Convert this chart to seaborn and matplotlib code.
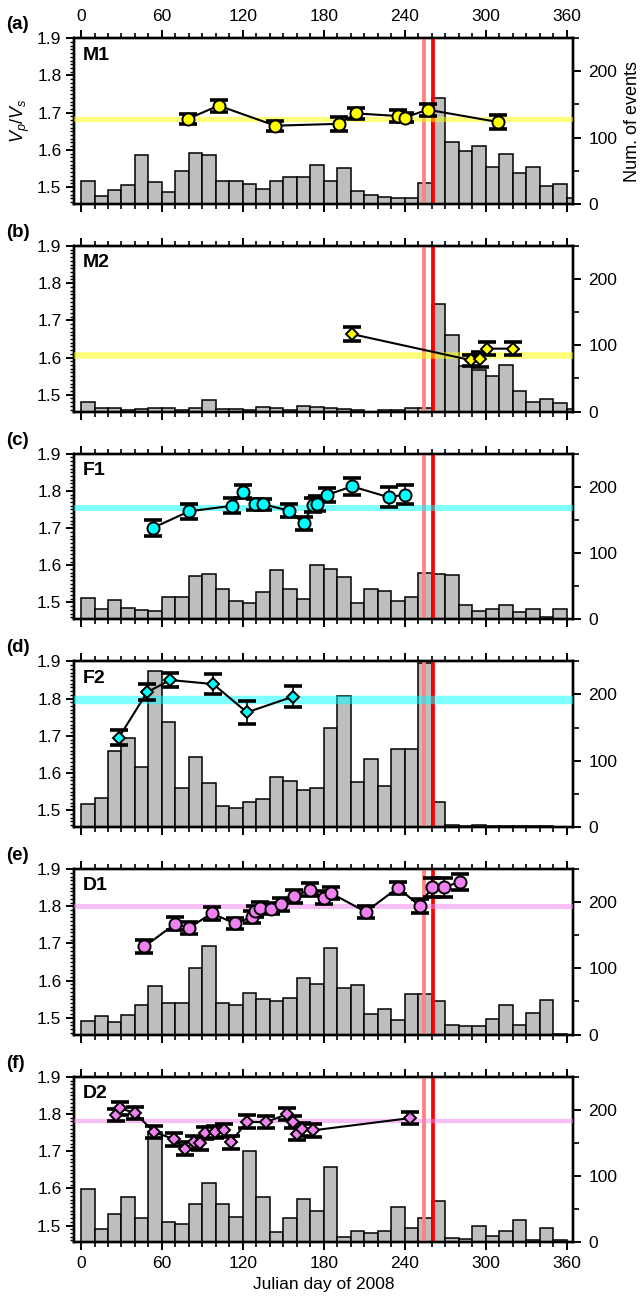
import numpy as np
import pandas as pd
import matplotlib
matplotlib.use("Agg")
import matplotlib.pyplot as plt
from matplotlib.ticker import MultipleLocator, FormatStrFormatter
import seaborn as sns

sns.set_theme(style="ticks", rc={
    "axes.edgecolor": "black", "xtick.color": "black", "ytick.color": "black",
    "text.color": "black", "axes.labelcolor": "black", "axes.linewidth": 1.7,
})
plt.rcParams["font.family"] = ["Liberation Sans", "DejaVu Sans"]
plt.rcParams["mathtext.fontset"] = "custom"
plt.rcParams["mathtext.rm"] = "Liberation Sans"
plt.rcParams["mathtext.it"] = "Liberation Sans:italic"

# ---- data ---------------------------------------------------------------
bin_width = 10                              # 10-day bins, Julian day
bin_centers = np.arange(5, 370, bin_width)

panel_letters = ["(a)", "(b)", "(c)", "(d)", "(e)", "(f)"]
cluster_names = ["M1", "M2", "F1", "F2", "D1", "D2"]

# number of events per 10-day bin
counts_m1 = [34, 12, 21, 29, 73, 33, 18, 49, 76, 74, 34, 34, 30, 22, 34, 41, 41, 59,
             35, 54, 20, 13, 10, 9, 9, 31, 160, 93, 80, 88, 55, 75, 47, 56, 27, 30, 9]
counts_m2 = [15, 6, 6, 3, 4, 5, 5, 2, 6, 18, 4, 4, 2, 7, 5, 2, 9, 7,
             5, 4, 2, 0, 3, 2, 6, 6, 163, 115, 69, 62, 54, 70, 31, 14, 19, 13, 4]
counts_f1 = [32, 16, 29, 17, 14, 13, 33, 34, 66, 68, 45, 28, 24, 41, 75, 45, 30, 82,
             76, 63, 24, 45, 42, 28, 34, 70, 68, 67, 22, 13, 15, 21, 11, 15, 3, 15, 0]
counts_f2 = [35, 43, 114, 135, 90, 236, 158, 59, 105, 67, 32, 28, 38, 42, 76, 70, 56, 59,
             149, 197, 68, 102, 62, 118, 117, 247, 38, 3, 2, 3, 1, 1, 1, 1, 1, 0, 0]
counts_d1 = [21, 28, 19, 30, 44, 74, 48, 47, 100, 134, 47, 44, 63, 54, 50, 55, 86, 77,
             131, 71, 75, 31, 39, 22, 62, 61, 50, 15, 13, 13, 24, 44, 15, 33, 52, 1, 0]
counts_d2 = [81, 20, 42, 68, 37, 166, 30, 28, 58, 89, 58, 38, 138, 69, 15, 36, 65, 48,
             114, 8, 17, 14, 17, 54, 22, 37, 62, 7, 5, 24, 9, 17, 33, 4, 21, 4, 0]

# Vp/Vs estimates: day, ratio, one-sigma error
day_m1 = [79, 102, 144, 191, 204, 235, 240, 257, 309]
vpvs_m1 = [1.683, 1.719, 1.665, 1.670, 1.698, 1.691, 1.687, 1.708, 1.675]
err_m1 = [0.013, 0.016, 0.013, 0.018, 0.015, 0.016, 0.013, 0.016, 0.018]

day_m2 = [201, 289, 296, 301, 320]
vpvs_m2 = [1.663, 1.593, 1.595, 1.624, 1.624]
err_m2 = [0.018, 0.015, 0.020, 0.017, 0.018]

day_f1 = [53, 80, 112, 120, 129, 135, 154, 165, 172, 175, 182, 201, 228, 240]
vpvs_f1 = [1.700, 1.745, 1.760, 1.798, 1.764, 1.764, 1.747, 1.713, 1.762, 1.766,
           1.789, 1.812, 1.783, 1.790]
err_f1 = [0.022, 0.020, 0.020, 0.018, 0.015, 0.015, 0.018, 0.018, 0.020, 0.020,
          0.020, 0.022, 0.027, 0.025]

day_f2 = [28, 49, 66, 98, 123, 157]
vpvs_f2 = [1.695, 1.817, 1.850, 1.839, 1.763, 1.805]
err_f2 = [0.021, 0.021, 0.020, 0.028, 0.030, 0.028]

day_d1 = [47, 70, 80, 97, 114, 127, 129, 133, 141, 148, 158, 170, 180, 185,
          211, 235, 251, 260, 269, 281]
vpvs_d1 = [1.692, 1.753, 1.742, 1.781, 1.754, 1.771, 1.786, 1.796, 1.794, 1.805,
           1.827, 1.845, 1.823, 1.836, 1.785, 1.850, 1.801, 1.851, 1.851, 1.866]
err_d1 = [0.018, 0.017, 0.017, 0.017, 0.015, 0.015, 0.015, 0.015, 0.015, 0.017,
          0.017, 0.017, 0.017, 0.017, 0.017, 0.016, 0.019, 0.026, 0.026, 0.022]

day_d2 = [26, 29, 40, 54, 69, 77, 84, 88, 92, 99, 106, 111, 123, 137,
          153, 157, 160, 164, 172, 244]
vpvs_d2 = [1.797, 1.815, 1.803, 1.752, 1.732, 1.707, 1.724, 1.721, 1.749, 1.752,
           1.756, 1.724, 1.779, 1.778, 1.800, 1.778, 1.747, 1.759, 1.756, 1.789]
err_d2 = [0.017] * 20

# long-term average Vp/Vs of each cluster
mean_vpvs = [1.684, 1.606, 1.753, 1.796, 1.801, 1.782]

# dates of the two events marked by vertical lines
event_days = [254, 261]

# ---- styling ------------------------------------------------------------
point_colors = ["#ffff00", "#ffff00", "#00ffff", "#00ffff", "#ee82ee", "#ee82ee"]
point_markers = ["o", "D", "o", "D", "o", "D"]
marker_sizes = [8.7, 6.6, 8.7, 6.6, 8.7, 6.6]
band_widths = [3.8, 4.8, 4.3, 6.0, 3.6, 3.1]

all_counts = [counts_m1, counts_m2, counts_f1, counts_f2, counts_d1, counts_d2]
all_days = [day_m1, day_m2, day_f1, day_f2, day_d1, day_d2]
all_vpvs = [vpvs_m1, vpvs_m2, vpvs_f1, vpvs_f2, vpvs_d1, vpvs_d2]
all_err = [err_m1, err_m2, err_f1, err_f2, err_d1, err_d2]

W, H = 644, 1298
fig = plt.figure(figsize=(W / 100, H / 100), dpi=100)

left_px, width_px, height_px = 74, 499, 165.5
tick_fs = 12.5

for i in range(6):
    top_px = 38.3 + i * 207.7
    rect = [left_px / W, 1 - (top_px + height_px) / H, width_px / W, height_px / H]
    ax = fig.add_axes(rect)
    ax2 = ax.twinx()
    ax.set_zorder(ax2.get_zorder() + 1)
    ax.patch.set_visible(False)

    # event histogram on the right-hand axis
    hist_df = pd.DataFrame({"day": bin_centers, "events": all_counts[i]})
    sns.histplot(data=hist_df, x="day", weights="events", binwidth=bin_width,
                 binrange=(0, 370), ax=ax2, color="#bebebe", edgecolor="black",
                 linewidth=1.1, alpha=1.0)
    ax2.set_ylim(0, 250)
    ax2.yaxis.set_major_locator(MultipleLocator(100))
    ax2.yaxis.set_minor_locator(MultipleLocator(50))
    ax2.tick_params(axis="y", which="major", direction="out", length=6, width=1.4,
                    labelsize=tick_fs, pad=5)
    ax2.tick_params(axis="y", which="minor", direction="out", length=4, width=1.2)

    # event markers and average ratio
    ax.axvline(event_days[0], color="#ff8080", lw=2.7, zorder=2)
    ax.axvline(event_days[1], color="#ff0000", lw=2.7, zorder=2)
    ax.axhline(mean_vpvs[i], color=point_colors[i], alpha=0.5, lw=band_widths[i], zorder=3)

    # Vp/Vs time series
    ax.errorbar(all_days[i], all_vpvs[i], yerr=all_err[i], fmt="none", ecolor="black",
                elinewidth=1.2, capsize=6.2, capthick=2.6, zorder=4)
    ts_df = pd.DataFrame({"day": all_days[i], "vpvs": all_vpvs[i]})
    sns.lineplot(data=ts_df, x="day", y="vpvs", ax=ax, color="black", lw=1.5,
                 marker=point_markers[i], markersize=marker_sizes[i],
                 markerfacecolor=point_colors[i], markeredgecolor="black",
                 markeredgewidth=1.4, estimator=None, sort=False, zorder=5)

    ax.set_xlim(-5.2, 364.7)
    ax.set_ylim(1.455, 1.9)
    ax.xaxis.set_major_locator(MultipleLocator(60))
    ax.xaxis.set_minor_locator(MultipleLocator(10))
    ax.yaxis.set_major_locator(MultipleLocator(0.1))
    ax.yaxis.set_minor_locator(MultipleLocator(0.01))
    ax.yaxis.set_major_formatter(FormatStrFormatter("%.1f"))
    ax.tick_params(axis="x", which="both", top=True, bottom=True, direction="out",
                   labeltop=(i == 0), labelbottom=(i == 5), labelsize=tick_fs, pad=4)
    ax.tick_params(axis="x", which="major", length=6, width=1.4)
    ax.tick_params(axis="x", which="minor", length=3.5, width=1.2)
    ax.tick_params(axis="y", which="major", left=True, right=False, direction="out",
                   length=6, width=1.4, labelsize=tick_fs, pad=3)
    ax.tick_params(axis="y", which="minor", left=True, right=False, direction="out",
                   length=3, width=1.0)

    for a in (ax, ax2):
        for sp in a.spines.values():
            sp.set_linewidth(1.7)
            sp.set_color("black")

    ax.set_xlabel("Julian day of 2008" if i == 5 else "", fontsize=12.5)
    ax.set_ylabel("$V_p/V_s$" if i == 0 else "", fontsize=13)
    ax2.set_ylabel("Num. of events" if i == 0 else "", fontsize=13, labelpad=5)
    ax2.set_xlabel("")

    ax.text(0.018, 0.95, cluster_names[i], transform=ax.transAxes, fontsize=14,
            fontweight="bold", va="top", ha="left", zorder=6)
    fig.text(6 / W, 1 - (top_px - 22) / H, panel_letters[i], fontsize=13.5,
             fontweight="bold", va="top", ha="left")

fig.savefig("out.png", dpi=100)
